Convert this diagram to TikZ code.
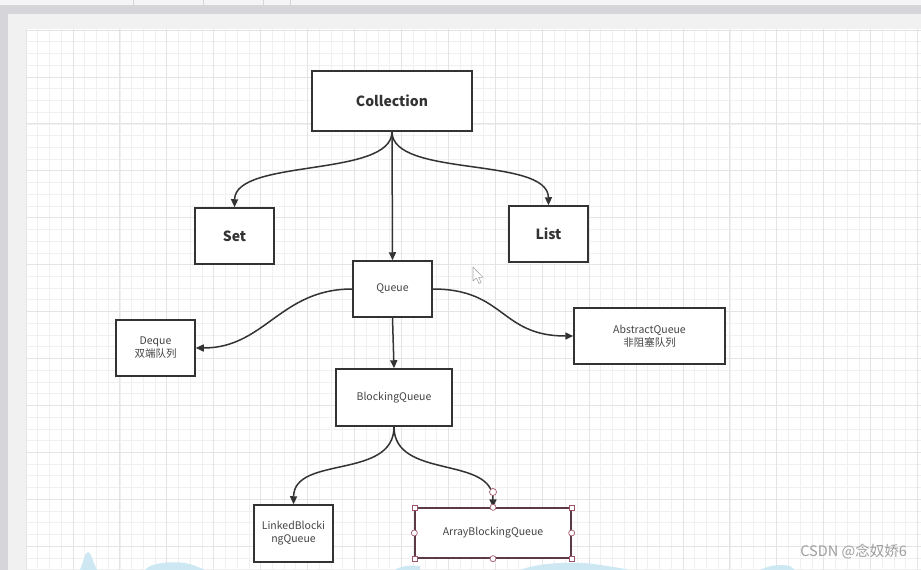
\documentclass[tikz,border=0pt]{standalone}
\usepackage{fontspec}
\setmainfont{Noto Sans CJK SC}
\usetikzlibrary{arrows.meta}
\definecolor{boxline}{HTML}{333333}
\definecolor{gridminor}{HTML}{F0F0F0}
\definecolor{gridmajor}{HTML}{E4E4E4}
\definecolor{pagebg}{HTML}{F1F1F1}
\definecolor{topbar}{HTML}{F4F4F6}
\definecolor{frame}{HTML}{D6D6DA}
\definecolor{selcol}{HTML}{A0566A}
\definecolor{selbox}{HTML}{5A3A44}
\definecolor{blob}{HTML}{CDE8F3}
\definecolor{txt}{HTML}{333333}
\definecolor{smtxt}{HTML}{444444}
\definecolor{wm}{HTML}{9E9E9E}
\tikzset{
  boxnode/.style={draw=boxline, line width=1.5pt, fill=white, inner sep=0pt, text=txt, align=center},
  bigtxt/.style={font=\fontsize{14}{16}\selectfont\bfseries},
  smalltxt/.style={text=smtxt, font=\fontsize{10.5}{13}\selectfont},
  conn/.style={draw=boxline, line width=1.5pt, -{Triangle[length=8pt,width=7pt]}},
  sqhandle/.style={draw=selcol, fill=white, line width=0.7pt, minimum size=5pt, inner sep=0pt, rectangle},
  cirhandle/.style={draw=selcol, fill=white, line width=0.7pt, minimum size=6pt, inner sep=0pt, circle},
}
\begin{document}
\begin{tikzpicture}[x=1pt,y=-1pt]
\useasboundingbox (0,0) rectangle (921,570);
% window chrome
\fill[topbar] (0,0) rectangle (921,6);
\foreach \sx in {133,203,263,290} \draw[frame,line width=0.6pt] (\sx,0) -- (\sx,5);
\fill[frame] (0,5) rectangle (921,14);
\fill[frame] (0,5) rectangle (8,570);
\fill[pagebg] (8,14) rectangle (921,570);
\fill[white] (26,29) rectangle (921,570);
% grid
\foreach \i in {0,...,77} {
  \pgfmathsetmacro\xx{26+11.73*\i}
  \draw[gridminor,line width=0.6pt] (\xx,29) -- (\xx,570);
}
\foreach \j in {0,...,46} {
  \pgfmathsetmacro\yy{30+11.73*\j}
  \draw[gridminor,line width=0.6pt] (26,\yy) -- (921,\yy);
}
\foreach \i in {0,...,19} {
  \pgfmathsetmacro\xx{26+46.92*\i}
  \draw[gridmajor,line width=0.7pt] (\xx,29) -- (\xx,570);
}
\foreach \j in {0,...,11} {
  \pgfmathsetmacro\yy{30+46.92*\j}
  \draw[gridmajor,line width=0.7pt] (26,\yy) -- (921,\yy);
}
% background blobs
\fill[blob] (80,570) .. controls (84,560) and (85,552) .. (88,552) .. controls (91,552) and (93,562) .. (97,570) -- cycle;
\fill[blob] (145,570) .. controls (150,563) and (170,561) .. (185,563) .. controls (195,565) and (200,568) .. (205,570) -- cycle;
\fill[blob] (395,570) .. controls (400,566) and (410,565) .. (420,566) -- (420,570) -- cycle;
\fill[blob] (520,570) .. controls (540,562) and (580,561) .. (600,565) .. controls (615,567) and (625,569) .. (630,570) -- cycle;
\fill[blob] (760,570) .. controls (770,565) and (780,564) .. (790,566) -- (795,570) -- cycle;
% nodes
\node[boxnode,bigtxt,minimum width=160pt,minimum height=60pt] (coll) at (392,101) {Collection};
\node[boxnode,bigtxt,minimum width=79pt,minimum height=56pt] (set) at (234.5,236) {Set};
\node[boxnode,bigtxt,minimum width=79pt,minimum height=56pt] (list) at (548.5,234) {List};
\node[boxnode,smalltxt,minimum width=79pt,minimum height=56pt] (queue) at (392.5,289) {Queue};
\node[boxnode,smalltxt,minimum width=79pt,minimum height=56pt] (deque) at (155.5,348) {Deque\\双端队列};
\node[boxnode,smalltxt,minimum width=151pt,minimum height=56pt] (abq) at (649.5,336) {AbstractQueue\\非阻塞队列};
\node[boxnode,smalltxt,minimum width=116pt,minimum height=57pt] (bq) at (394,397.5) {BlockingQueue};
\node[boxnode,smalltxt,minimum width=79pt,minimum height=57pt] (lbq) at (293.5,533.5) {LinkedBlocki\\ngQueue};
\node[boxnode,smalltxt,draw=selbox,line width=1.3pt,minimum width=156pt,minimum height=50pt] (arr) at (493,533) {ArrayBlockingQueue};
% connectors
\draw[conn] (coll.south) .. controls (392,178) and (235,158) .. (set.north);
\draw[conn] (coll.south) -- (queue.north);
\draw[conn] (coll.south) .. controls (392,178) and (548,156) .. (list.north);
\draw[conn] (queue.west) .. controls (280,289) and (265,348) .. (deque.east);
\draw[conn] (queue.east) .. controls (505,289) and (500,336) .. (abq.west);
\draw[conn] (queue.south) -- (bq.north);
\draw[conn] (bq.south) .. controls (394,480) and (294,455) .. (lbq.north);
\draw[conn] (bq.south) .. controls (394,480) and (493,455) .. (arr.north);
% selection handles
\foreach \a in {north west,north east,south west,south east} \node[sqhandle] at (arr.\a) {};
\foreach \a in {north,south,west,east} \node[cirhandle] at (arr.\a) {};
\node[cirhandle,minimum size=7pt] (endh) at (493,492) {};
% mouse cursor
\draw[gray!70,fill=white,line width=0.6pt,line join=round] (473,267) -- (473,281) -- (476.5,278) -- (479,283.5) -- (481.2,282.5) -- (478.7,277.3) -- (483,277.3) -- cycle;
% watermark
\node[anchor=east,text=wm,font=\fontsize{14.5}{17}\selectfont,inner sep=0pt] (wmk) at (907,552) {CSDN @念奴娇6};
\end{tikzpicture}
\end{document}
